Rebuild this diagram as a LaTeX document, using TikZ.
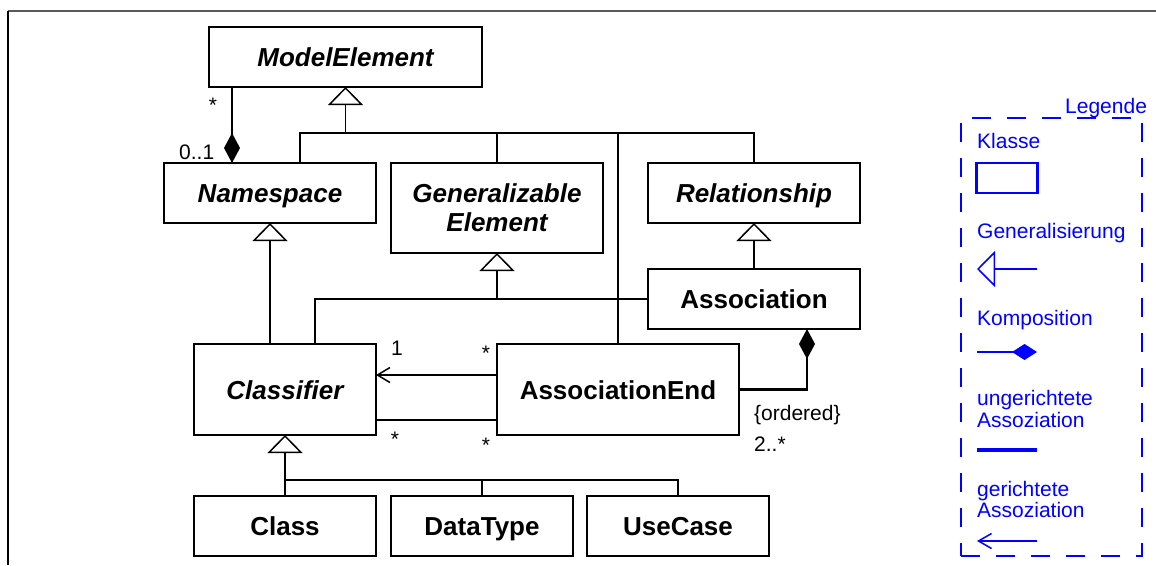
\documentclass[tikz,border=0pt]{standalone}
\usepackage{fontspec}
\setmainfont{Liberation Sans}
\usetikzlibrary{arrows.meta}
\definecolor{legblue}{RGB}{0,0,255}
\begin{document}
\begin{tikzpicture}[x=1pt,y=-1pt,
  cls/.style={draw, line width=1.5pt, inner sep=0pt, outer sep=0pt, align=center,
    font=\fontsize{26}{29}\selectfont\bfseries},
  abstract/.style={cls, font=\fontsize{26}{29}\selectfont\bfseries\itshape},
  oneline/.style={text height=19pt, text depth=0pt},
  conn/.style={line width=1.5pt},
  gen/.style={conn, -{Triangle[open, length=18pt, width=35pt]}},
  compo/.style={conn, -{Diamond[length=30pt, width=16pt]}},
  navig/.style={conn, -{Straight Barb[length=12.5pt, width=15pt]}},
  mult/.style={font=\fontsize{21}{24}\selectfont, inner sep=0pt, anchor=base},
  legtext/.style={text=legblue, font=\fontsize{21}{22}\selectfont, inner sep=0pt, anchor=base west},
  legline/.style={draw=legblue, line width=1.5pt},
]
\useasboundingbox (0,0) rectangle (1156,565);

% page frame
\draw[gray!70!black, line width=2pt] (8,11) -- (1156,11);
\draw[line width=1.5pt] (8,11) -- (8,565);

% classes
\node[abstract, oneline, minimum width=273pt, minimum height=60pt] (me) at (345.5,57) {ModelElement};
\node[abstract, oneline, minimum width=212pt, minimum height=60pt] (ns) at (270,193) {Namespace};
\node[abstract, minimum width=212pt, minimum height=90pt] (ge) at (497,208) {Generalizable\\Element};
\node[abstract, oneline, minimum width=212pt, minimum height=60pt] (rel) at (754,193) {Relationship};
\node[cls, oneline, minimum width=212pt, minimum height=60pt] (as) at (754,299) {Association};
\node[abstract, oneline, minimum width=182pt, minimum height=91pt] (cl) at (285,389.5) {Classifier};
\node[cls, oneline, minimum width=242pt, minimum height=91pt] (ae) at (618,389.5) {AssociationEnd};
\node[cls, oneline, minimum width=182pt, minimum height=60pt] (cls) at (285,526) {Class};
\node[cls, oneline, minimum width=182pt, minimum height=60pt] (dt) at (482,526) {DataType};
\node[cls, oneline, minimum width=182pt, minimum height=60pt] (uc) at (678,526) {UseCase};

% generalization tree below ModelElement
\draw[conn] ([xshift=30pt]ns.north) -- ++(0,-30) coordinate (bus1) -| (rel.north);
\draw[gen] (me.south |- bus1) -- (me.south);
\draw[conn] (ge.north) -- (ge.north |- bus1);
\draw[conn] (ae.north) -- (ae.north |- bus1);

% Namespace -> ModelElement composition
\coordinate (nsC) at ([xshift=-38pt]ns.north);
\draw[compo] (me.south -| nsC) -- (nsC);

% Relationship <- Association
\draw[gen] (as.north) -- (rel.south);

% GeneralizableElement <- Classifier, Association
\draw[gen] (as.west -| ge.south) -- (ge.south);
\draw[conn] ([xshift=30pt]cl.north) |- (as.west);

% Namespace <- Classifier
\draw[gen] (cl.north -| ns.south) -- (ns.south);

% Classifier <- Class, DataType, UseCase
\draw[gen] (cls.north) -- (cl.south);
\draw[conn] ([yshift=16pt]cls.north) -| (uc.north);
\draw[conn] (dt.north) -- ++(0,-16);

% AssociationEnd -- Classifier
\draw[navig] ([yshift=14.5pt]ae.west) -- ([yshift=14.5pt]ae.west -| cl.east);
\draw[conn] ([yshift=-30.5pt]ae.west) -- ([yshift=-30.5pt]ae.west -| cl.east);

% AssociationEnd -> Association composition
\coordinate (asC) at ([xshift=53pt]as.south);
\draw[line width=3pt] (ae.east) -- ([xshift=0.75pt]ae.east -| asC);
\draw[compo] (ae.east -| asC) -- (asC);

% multiplicities
\node[mult] (m1) at (213,112) {*};
\node[mult, anchor=base west] (m2) at (179,159) {0..1};
\node[mult] (m3) at (397,355) {1};
\node[mult] (m4) at (486,360) {*};
\node[mult] (m5) at (395,446) {*};
\node[mult] (m6) at (486,452) {*};
\node[mult, anchor=base west] (m7) at (754,420) {\{ordered\}};
\node[mult, anchor=base west] (m8) at (754,451) {2..*};

% legend
\node[draw=legblue, line width=2.7pt, dash pattern=on 19pt off 16pt, inner sep=0pt, outer sep=0pt,
  minimum width=181pt, minimum height=438pt] (legend) at (1051.5,337) {};
\node[legtext] (legT) at (1065,113) {Legende};

\node[legtext] (lk) at (977,148) {Klasse};
\node[draw=legblue, line width=2.5pt, inner sep=0pt, outer sep=0pt,
  minimum width=61pt, minimum height=30pt] (lkbox) at (1007,178) {};

\node[legtext] (lg) at (977,238) {Generalisierung};
\coordinate (lgA) at (1037,269);
\coordinate (lgB) at (977,269);
\draw[legline, -{Triangle[open, length=18pt, width=36pt]}] (lgA) -- (lgB);

\node[legtext] (lc) at (977,325) {Komposition};
\coordinate (lcA) at (977,352);
\coordinate (lcB) at (1037,352);
\draw[legline, -{Diamond[length=25pt, width=16pt]}] (lcA) -- (lcB);

\node[legtext] (lu1) at (977,405) {ungerichtete};
\node[legtext] (lu2) at (977,427) {Assoziation};
\coordinate (luA) at (977,450);
\coordinate (luB) at (1037,450);
\draw[legline, line width=3.3pt] (luA) -- (luB);

\node[legtext] (ld1) at (977,496) {gerichtete};
\node[legtext] (ld2) at (977,517) {Assoziation};
\coordinate (ldA) at (1037,541);
\coordinate (ldB) at (977,541);
\draw[legline, -{Straight Barb[length=13pt, width=15pt]}] (ldA) -- (ldB);
\end{tikzpicture}
\end{document}
